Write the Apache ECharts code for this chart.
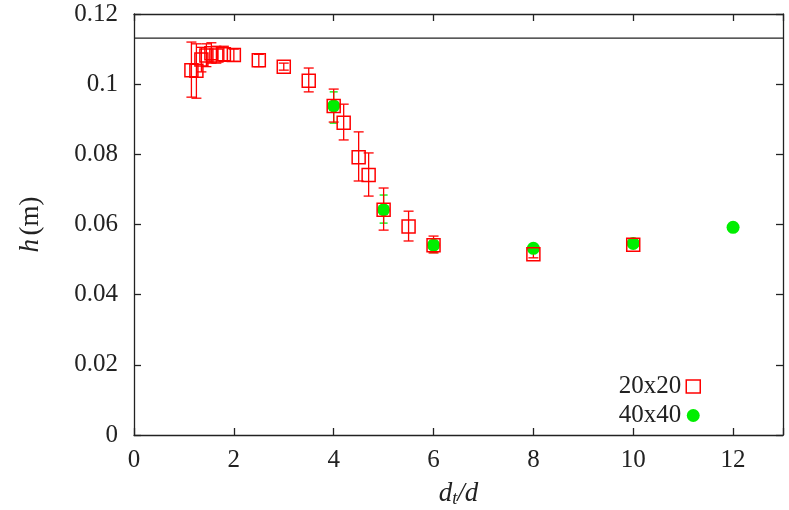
<!DOCTYPE html>
<html>
<head>
<meta charset="utf-8">
<script src="https://cdn.jsdelivr.net/npm/echarts@6/dist/echarts.min.js"></script>
<style>
  html, body { margin: 0; padding: 0; background: #fff; }
  #chart { width: 789px; height: 510px; }
</style>
</head>
<body>
<div id="chart"></div>
<script>
// 20x20 grid: x, h, lower, upper
var redX  = [1.15, 1.25, 1.35, 1.45, 1.55, 1.65, 1.8, 2.0, 2.5, 3.0, 3.5, 4.0, 4.2, 4.5, 4.7, 5.0, 5.5, 6.0, 8.0, 10.0];
var redY  = [0.1040, 0.1038, 0.1070, 0.1082, 0.1088, 0.1082, 0.1085, 0.1083, 0.1068, 0.1050, 0.1010, 0.0938, 0.0890, 0.0792, 0.0741, 0.0642, 0.0594, 0.0541, 0.0515, 0.0542];
var redLo = [0.0963, 0.0960, 0.1035, 0.1050, 0.1060, 0.1060, 0.1065, 0.1065, 0.1050, 0.1040, 0.0978, 0.0892, 0.0841, 0.0724, 0.0681, 0.0584, 0.0553, 0.0519, 0.0505, 0.0538];
var redHi = [0.1120, 0.1115, 0.1105, 0.1115, 0.1118, 0.1108, 0.1108, 0.1100, 0.1085, 0.1060, 0.1046, 0.0986, 0.0943, 0.0864, 0.0804, 0.0704, 0.0638, 0.0567, 0.0525, 0.0546];
// 40x40 grid
var greenX  = [4.0, 5.0, 6.0, 8.0, 10.0, 12.0];
var greenY  = [0.0938, 0.0642, 0.0541, 0.0532, 0.0546, 0.0592];
var greenLo = [0.0889, 0.0604, 0.0520, 0.0526, 0.0543, 0.0590];
var greenHi = [0.0978, 0.0684, 0.0555, 0.0538, 0.0549, 0.0594];
// reference level
var refLine = [[0, 0.1131], [13, 0.1131]];
var xTicks = [0, 2, 4, 6, 8, 10, 12];
var yTicks = [0, 0.02, 0.04, 0.06, 0.08, 0.1, 0.12];

var fontFam = '"Liberation Serif", "DejaVu Serif", serif';

function pts(xs, ys) {
  return xs.map(function (x, i) { return [x, ys[i]]; });
}
function bars(xs, lo, hi) {
  return xs.map(function (x, i) { return [x, lo[i], hi[i]]; });
}
function errRender(color, cap) {
  return function (params, api) {
    var top = api.coord([api.value(0), api.value(2)]);
    var bot = api.coord([api.value(0), api.value(1)]);
    var st = { stroke: color, lineWidth: 1.3 };
    return {
      type: 'group',
      children: [
        { type: 'line', shape: { x1: top[0], y1: top[1], x2: bot[0], y2: bot[1] }, style: st },
        { type: 'line', shape: { x1: top[0] - cap, y1: top[1], x2: top[0] + cap, y2: top[1] }, style: st },
        { type: 'line', shape: { x1: bot[0] - cap, y1: bot[1], x2: bot[0] + cap, y2: bot[1] }, style: st }
      ]
    };
  };
}

var axisCommon = {
  type: 'value',
  axisLine: { show: true, onZero: false, lineStyle: { color: '#222', width: 1.3 } },
  axisTick: { show: true, inside: true, length: 7, lineStyle: { color: '#222', width: 1.3 } },
  splitLine: { show: false }
};

var chart = echarts.init(document.getElementById('chart'));
chart.setOption({
  animation: false,
  backgroundColor: '#fff',
  grid: { left: 134, right: 6, top: 14, bottom: 75, containLabel: false, outerBoundsMode: 'none' },
  legend: {
    orient: 'vertical',
    right: 83,
    top: 369,
    align: 'right',
    itemGap: 4,
    itemWidth: 14,
    itemHeight: 13,
    textStyle: { fontFamily: fontFam, fontSize: 25, color: '#222' },
    data: [
      { name: '20x20', icon: 'rect', itemStyle: { color: 'rgba(0,0,0,0)', borderColor: '#ff0000', borderWidth: 1.5 } },
      { name: '40x40', icon: 'circle', itemStyle: { color: '#00ee00' } }
    ]
  },
  xAxis: [
    Object.assign({}, axisCommon, {
      min: 0, max: 13, interval: 2,
      position: 'bottom',
      axisLabel: { fontFamily: fontFam, fontSize: 25, color: '#222', margin: 13,
        formatter: function (v) { return xTicks.indexOf(v) >= 0 ? String(v) : ''; } },
      name: '{i|d}{s|t}{i|/d}',
      nameLocation: 'middle',
      nameGap: 45,
      nameTextStyle: { rich: {
        i: { fontFamily: fontFam, fontStyle: 'italic', fontSize: 27, color: '#222' },
        s: { fontFamily: fontFam, fontStyle: 'italic', fontSize: 18, color: '#222', verticalAlign: 'bottom', padding: [10, 0, 0, 0] }
      } }
    }),
    Object.assign({}, axisCommon, {
      min: 0, max: 13, interval: 2, position: 'top', axisLabel: { show: false }
    })
  ],
  yAxis: [
    Object.assign({}, axisCommon, {
      min: 0, max: 0.12, interval: 0.02,
      position: 'left',
      axisLabel: { fontFamily: fontFam, fontSize: 25, color: '#222', margin: 16,
        formatter: function (v) {
          var r = Math.round(v * 100) / 100;
          return yTicks.indexOf(r) >= 0 ? String(r) : '';
        } },
      name: '{i|h} {n|(m)}',
      nameLocation: 'middle',
      nameGap: 90,
      nameRotate: 90,
      nameTextStyle: { rich: {
        i: { fontFamily: fontFam, fontStyle: 'italic', fontSize: 27, color: '#222' },
        n: { fontFamily: fontFam, fontSize: 27, color: '#222' }
      } }
    }),
    Object.assign({}, axisCommon, {
      min: 0, max: 0.12, interval: 0.02, position: 'right', axisLabel: { show: false }
    })
  ],
  series: [
    {
      name: 'ref', type: 'line', data: refLine, symbol: 'none',
      lineStyle: { color: '#222', width: 1.2 }, silent: true, z: 1
    },
    {
      name: '40x40 err', type: 'custom', data: bars(greenX, greenLo, greenHi),
      renderItem: errRender('#00ee00', 4), z: 2
    },
    {
      name: '20x20 err', type: 'custom', data: bars(redX, redLo, redHi),
      renderItem: errRender('#ff0000', 5), z: 3
    },
    {
      name: '40x40', type: 'scatter', data: pts(greenX, greenY),
      symbol: 'circle', symbolSize: 13,
      itemStyle: { color: '#00ee00', opacity: 1 }, z: 4
    },
    {
      name: '20x20', type: 'scatter', data: pts(redX, redY),
      symbol: 'rect', symbolSize: 13,
      itemStyle: { color: 'rgba(0,0,0,0)', borderColor: '#ff0000', borderWidth: 1.5, opacity: 1 }, z: 5
    }
  ]
});
</script>
</body>
</html>
